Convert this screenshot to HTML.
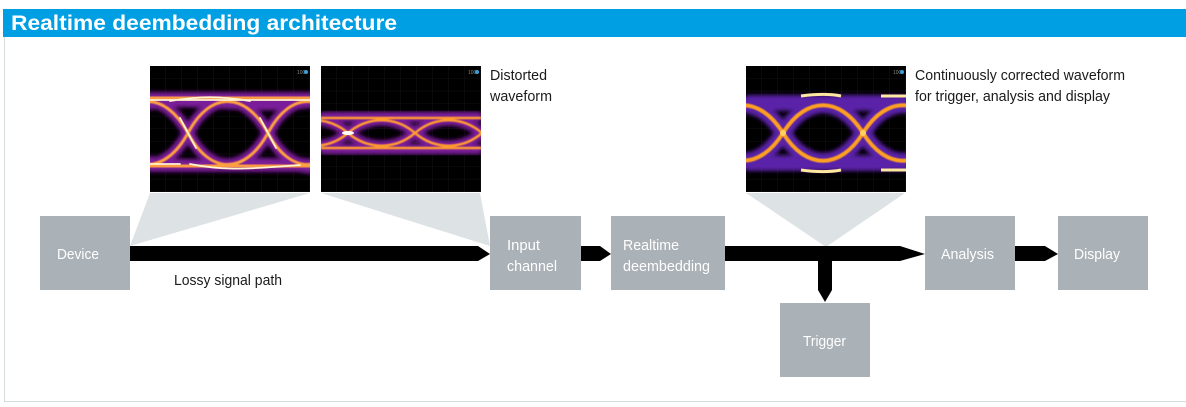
<!DOCTYPE html>
<html><head><meta charset="utf-8"><style>
html,body{margin:0;padding:0;background:#fff;width:1186px;height:407px;overflow:hidden}
svg{display:block}
text{font-family:"Liberation Sans",sans-serif}
</style></head><body>
<svg width="1186" height="407" viewBox="0 0 1186 407" xmlns="http://www.w3.org/2000/svg">
<defs>
<filter id="b1" x="-20%" y="-20%" width="140%" height="140%"><feGaussianBlur stdDeviation="2.5"/></filter>
<filter id="b2" x="-20%" y="-20%" width="140%" height="140%"><feGaussianBlur stdDeviation="1.2"/></filter>
<filter id="b3"><feGaussianBlur stdDeviation="0.6"/></filter>
<pattern id="grid" width="16" height="12.6" patternUnits="userSpaceOnUse"><path d="M16 0V12.6M0 12.6H16" stroke="#222" stroke-width="0.6" fill="none"/></pattern>
<clipPath id="c"><rect width="160" height="126"/></clipPath>
</defs>
<rect x="3" y="9" width="1183" height="28" fill="#009fe3"/>
<text x="11" y="30" font-weight="bold" font-size="21" fill="#fff" textLength="386" lengthAdjust="spacingAndGlyphs">Realtime deembedding architecture</text>
<line x1="4.5" y1="37" x2="4.5" y2="401" stroke="#d5dadd"/>
<line x1="4" y1="401.5" x2="1186" y2="401.5" stroke="#d5dadd"/>

<polygon points="150,193 310,193 130,246" fill="#dde2e5"/>
<polygon points="321,193 480,193 490,246" fill="#dde2e5"/>
<polygon points="746,193 905,193 826,247" fill="#dde2e5"/>

<!-- eye 1 -->
<g transform="translate(150,66)" clip-path="url(#c)">
<rect width="160" height="127" fill="#000"/><rect width="160" height="126" fill="url(#grid)"/>
<g fill="none" stroke-linecap="round">
<path id="e1" d="M-42,67 C-20,25 15,25 38,67 C60,109 95,109 118,67 C140,25 175,25 198,67 M-42,67 C-20,109 15,109 38,67 C60,25 95,25 118,67 C140,109 175,109 198,67 M0,32 H160 M0,100 H160 M0,38 C40,30 100,44 160,36 M0,96 C50,104 110,92 160,102" stroke="#7a1f9a" stroke-width="9" filter="url(#b1)"/>
<use href="#e1" style="stroke:#ef3060" stroke-width="6" filter="url(#b2)"/>
<path d="M-42,67 C-20,25 15,25 38,67 C60,109 95,109 118,67 C140,25 175,25 198,67 M-42,67 C-20,109 15,109 38,67 C60,25 95,25 118,67 C140,109 175,109 198,67 M0,32 H160 M0,100 H160" stroke="#ffa040" stroke-width="3" filter="url(#b3)"/>
<path d="M20,35 C50,30 70,30 100,35 M40,98 C70,104 90,104 150,99 M30,52 L46,82 M110,52 L126,82 M0,34 H160 M0,98 H30" stroke="#fff4d0" stroke-width="1.8"/>
</g>
<text x="147" y="8" font-size="5" fill="#888">100</text><circle cx="156" cy="6" r="2" fill="#3aa0d8"/>
</g>

<!-- eye 2 -->
<g transform="translate(321,66)" clip-path="url(#c)">
<rect width="160" height="127" fill="#000"/><rect width="160" height="126" fill="url(#grid)"/>
<g fill="none">
<path id="e2" d="M-40,67 C-20,50 7,50 27,67 C47,84 74,84 94,67 C114,50 141,50 161,67 C181,84 190,84 200,67 M-40,67 C-20,84 7,84 27,67 C47,50 74,50 94,67 C114,84 141,84 161,67 M0,51 H160 M0,83 H160" stroke="#7a1f9a" stroke-width="8" filter="url(#b1)"/>
<use href="#e2" style="stroke:#e8305e" stroke-width="5" filter="url(#b2)"/>
<path d="M-40,67 C-20,50 7,50 27,67 C47,84 74,84 94,67 C114,50 141,50 161,67 M-40,67 C-20,84 7,84 27,67 C47,50 74,50 94,67 C114,84 141,84 161,67 M0,52 H160 M0,82 H160" stroke="#ff9a30" stroke-width="2.5" filter="url(#b3)"/>
<ellipse cx="27" cy="67" rx="6" ry="2" fill="#fff"/>
</g>
<text x="147" y="8" font-size="5" fill="#888">100</text><circle cx="156" cy="6" r="2" fill="#3aa0d8"/>
</g>

<!-- eye 3 -->
<g transform="translate(746,66)" clip-path="url(#c)">
<rect width="160" height="127" fill="#000"/><rect width="160" height="126" fill="url(#grid)"/>
<g fill="none">
<path id="e3" d="M-43,67 C-20,30 14,30 37,67 C60,104 94,104 117,67 C140,30 174,30 197,67 M-43,67 C-20,104 14,104 37,67 C60,30 94,30 117,67 C140,104 174,104 197,67 M0,37 H160 M0,97 H160" stroke="#5a22a8" stroke-width="13" filter="url(#b1)"/>
<use href="#e3" style="stroke:#e0306a" stroke-width="7" filter="url(#b2)"/>
<path d="M-43,67 C-20,30 14,30 37,67 C60,104 94,104 117,67 C140,30 174,30 197,67 M-43,67 C-20,104 14,104 37,67 C60,30 94,30 117,67 C140,104 174,104 197,67" stroke="#ffa020" stroke-width="4" filter="url(#b3)"/>
<path d="M55,30 C70,28 85,28 95,30 M55,104 C70,106 85,106 95,104 M135,30 H160 M135,104 H160" stroke="#ffe9a0" stroke-width="3"/>
<circle cx="37" cy="67" r="3" fill="#ffd060"/><circle cx="117" cy="67" r="3" fill="#ffd060"/>
</g>
<text x="147" y="8" font-size="5" fill="#888">100</text><circle cx="156" cy="6" r="2" fill="#3aa0d8"/>
</g>

<polygon points="130,246 478,246 490,254 478,261 130,261" fill="#000"/>
<polygon points="581,246 600,246 611,254 600,261 581,261" fill="#000"/>
<polygon points="725,246 900,246 925,254 900,261 725,261" fill="#000"/>
<polygon points="818,261 832,261 832,290 825,302 818,290" fill="#000"/>
<polygon points="1015,246 1045,246 1058,254 1045,261 1015,261" fill="#000"/>

<g fill="#aab1b7">
<rect x="40" y="216" width="90" height="74"/>
<rect x="490" y="216" width="91" height="74"/>
<rect x="611" y="216" width="114" height="74"/>
<rect x="925" y="216" width="90" height="74"/>
<rect x="1058" y="216" width="90" height="74"/>
<rect x="780" y="303" width="90" height="74"/>
</g>
<g fill="#fff" font-size="15" lengthAdjust="spacingAndGlyphs">
<text x="57" y="259" textLength="42" lengthAdjust="spacingAndGlyphs">Device</text>
<text x="507" y="250" textLength="33" lengthAdjust="spacingAndGlyphs">Input</text><text x="507" y="271" textLength="50" lengthAdjust="spacingAndGlyphs">channel</text>
<text x="623" y="250" textLength="56" lengthAdjust="spacingAndGlyphs">Realtime</text><text x="623" y="271" textLength="87" lengthAdjust="spacingAndGlyphs">deembedding</text>
<text x="941" y="259" textLength="53" lengthAdjust="spacingAndGlyphs">Analysis</text>
<text x="1074" y="259" textLength="46" lengthAdjust="spacingAndGlyphs">Display</text>
<text x="803" y="346" textLength="43" lengthAdjust="spacingAndGlyphs">Trigger</text>
</g>
<g fill="#1a1a1a" font-size="15">
<text x="174" y="285" textLength="108" lengthAdjust="spacingAndGlyphs">Lossy signal path</text>
<text x="490" y="80" textLength="57" lengthAdjust="spacingAndGlyphs">Distorted</text><text x="490" y="101" textLength="62" lengthAdjust="spacingAndGlyphs">waveform</text>
<text x="915" y="80" textLength="210" lengthAdjust="spacingAndGlyphs">Continuously corrected waveform</text>
<text x="915" y="101" textLength="195" lengthAdjust="spacingAndGlyphs">for trigger, analysis and display</text>
</g>
</svg>
</body></html>
